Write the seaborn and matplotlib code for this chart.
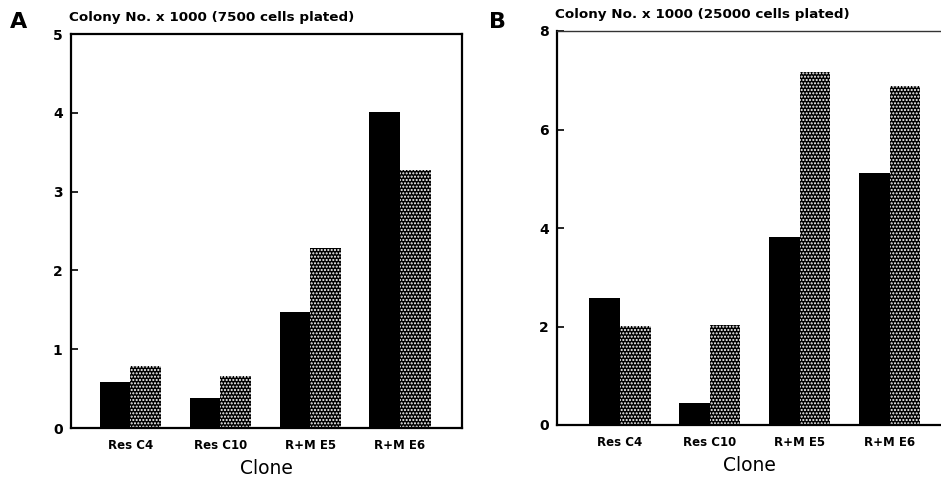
import matplotlib
matplotlib.use("Agg")
import matplotlib.pyplot as plt
import seaborn as sns
import pandas as pd

clones = ["Res C4", "Res C10", "R+M E5", "R+M E6"]
groups = ["solid", "dotted"]
a_solid = [0.59, 0.38, 1.47, 4.01]
a_dotted = [0.79, 0.66, 2.29, 3.28]
b_solid = [2.57, 0.44, 3.82, 5.11]
b_dotted = [2.01, 2.04, 7.16, 6.88]
a_yticks = [0, 1, 2, 3, 4, 5]
b_yticks = [0, 2, 4, 6, 8]
a_title = "Colony No. x 1000 (7500 cells plated)"
b_title = "Colony No. x 1000 (25000 cells plated)"
xlabel = "Clone"

sns.set_theme(style="white")
plt.rcParams["font.family"] = ["DejaVu Sans"]
plt.rcParams["hatch.linewidth"] = 1.0
for k in ["text.color", "axes.labelcolor", "xtick.color", "ytick.color"]:
    plt.rcParams[k] = "black"

fig = plt.figure(figsize=(9.41, 4.8), dpi=100)
axA = fig.add_axes([71/941, 1-428/480, 391/941, 394/480])
axB = fig.add_axes([557/941, 1-425/480, 384/941, 394/480])


def make_df(s, d):
    return pd.DataFrame({
        "clone": clones * 2,
        "group": [groups[0]] * 4 + [groups[1]] * 4,
        "value": list(s) + list(d),
    })


def draw(ax, s, d, yticks, title, xlim, letter, letter_x, right_spine):
    df = make_df(s, d)
    sns.barplot(data=df, x="clone", y="value", hue="group", order=clones,
                hue_order=groups, palette=["black", "black"], width=0.68,
                ax=ax, legend=False, saturation=1, linewidth=0)
    for p in ax.patches[4:8]:
        p.set_facecolor("black")
        p.set_edgecolor("white")
        p.set_hatch(".....")
        p.set_linewidth(0)
    ax.set_ylim(yticks[0], yticks[-1])
    ax.set_xlim(*xlim)
    ax.set_yticks(yticks)
    ax.set_yticklabels([str(t) for t in yticks], fontsize=10, fontweight="bold")
    ax.set_xticklabels(clones, fontsize=8.5, fontweight="bold")
    ax.tick_params(axis="y", direction="in", length=5, width=1.2, left=True, pad=6)
    ax.tick_params(axis="x", length=0, pad=8)
    ax.set_xlabel(xlabel, fontsize=13.5, labelpad=5)
    ax.set_ylabel("")
    for sp in ax.spines.values():
        sp.set_color("black")
        sp.set_linewidth(1.6)
    if not right_spine:
        ax.spines["right"].set_visible(False)
        ax.spines["top"].set_linewidth(1.0)
        ax.spines["top"].set_color("#333333")
    ax.text(-0.005, 1.025, title, transform=ax.transAxes, fontsize=9.7,
            fontweight="bold", ha="left", va="bottom")
    fig.text(letter_x, 0.954, letter, fontsize=16, fontweight="bold",
             ha="left", va="center")


draw(axA, a_solid, a_dotted, a_yticks, a_title, (-0.66, 3.69), "A", 10/941, True)
draw(axB, b_solid, b_dotted, b_yticks, b_title, (-0.70, 3.57), "B", 489/941, False)

fig.savefig("out.png", dpi=100)
